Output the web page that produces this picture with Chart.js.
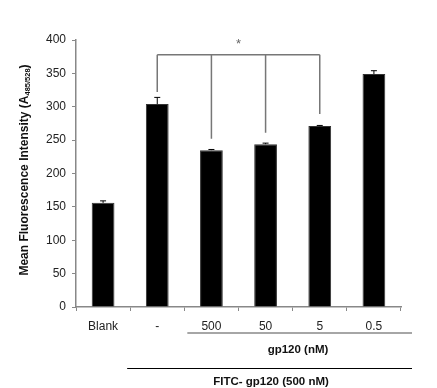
<!DOCTYPE html>
<html>
<head>
<meta charset="utf-8">
<script src="https://cdn.jsdelivr.net/npm/chart.js@4"></script>
<style>
  html, body { margin: 0; padding: 0; background: #fff; }
  #wrap { width: 437px; height: 388px; }
</style>
</head>
<body>
<div id="wrap"><canvas id="chart"></canvas></div>
<script>
const categories = ['Blank', '-', '500', '50', '5', '0.5'];
const means = [156, 304, 235, 244, 271, 349];
const errors = [3, 10, 1, 1.5, 1, 5];

// significance bracket: which bars, where each drop line ends, and the top of the bracket
const bracketBars = [1, 2, 3, 4];
const bracketEnds = [322, 252, 261, 289];
const bracketTop = 378;
const bracketMark = '*';

const yTitle = 'Mean Fluorescence Intensity (A';
const ySub = '485/528';
const groupInner = 'gp120 (nM)';
const groupOuter = 'FITC- gp120 (500 nM)';

const FONT = '"Liberation Sans", Arial, sans-serif';

const extras = {
    id: 'extras',
    afterDatasetsDraw(chart) {
        const ctx = chart.ctx;
        const x = chart.scales.x, y = chart.scales.y;
        const step = x.getPixelForValue(1) - x.getPixelForValue(0);
        ctx.save();

        // error bars (upper half)
        ctx.strokeStyle = '#000';
        ctx.lineWidth = 1;
        means.forEach((m, i) => {
            const cx = x.getPixelForValue(i);
            const top = y.getPixelForValue(m + errors[i]);
            ctx.beginPath();
            ctx.moveTo(cx, y.getPixelForValue(m));
            ctx.lineTo(cx, top);
            ctx.moveTo(cx - 3, top);
            ctx.lineTo(cx + 3, top);
            ctx.stroke();
        });

        // bracket
        ctx.strokeStyle = '#777';
        ctx.lineWidth = 1.5;
        const by = y.getPixelForValue(bracketTop);
        ctx.beginPath();
        ctx.moveTo(x.getPixelForValue(bracketBars[0]), by);
        ctx.lineTo(x.getPixelForValue(bracketBars[bracketBars.length - 1]), by);
        bracketBars.forEach((b, k) => {
            const bx = x.getPixelForValue(b);
            ctx.moveTo(bx, by);
            ctx.lineTo(bx, y.getPixelForValue(bracketEnds[k]));
        });
        ctx.stroke();
        ctx.fillStyle = '#666';
        ctx.font = '13px ' + FONT;
        ctx.textAlign = 'center';
        ctx.textBaseline = 'middle';
        const midX = (x.getPixelForValue(bracketBars[1]) + x.getPixelForValue(bracketBars[2])) / 2;
        ctx.fillText(bracketMark, midX, by - 10);

        // group lines and labels under the axis
        const xBottom = chart.chartArea.bottom;
        const rightEnd = chart.chartArea.right + 11;
        ctx.strokeStyle = '#888';
        ctx.lineWidth = 1.5;
        ctx.beginPath();
        const innerStart = x.getPixelForValue(2) - step / 2 + 3;
        ctx.moveTo(innerStart, xBottom + 26);
        ctx.lineTo(rightEnd, xBottom + 26);
        ctx.stroke();
        ctx.strokeStyle = '#000';
        ctx.lineWidth = 1;
        ctx.beginPath();
        const outerStart = x.getPixelForValue(1) - step / 2 - 3;
        ctx.moveTo(outerStart, xBottom + 61.5);
        ctx.lineTo(rightEnd, xBottom + 61.5);
        ctx.stroke();

        ctx.fillStyle = '#111';
        ctx.font = 'bold 11.5px ' + FONT;
        ctx.fillText(groupInner, 298, xBottom + 43);
        ctx.fillText(groupOuter, 271, xBottom + 75);

        // y-axis title with subscript
        ctx.translate(25, 170);
        ctx.rotate(-Math.PI / 2);
        ctx.textAlign = 'left';
        ctx.fillStyle = '#111';
        const mainFont = 'bold 12px ' + FONT;
        const subFont = 'bold 7.5px ' + FONT;
        ctx.font = mainFont;
        const w1 = ctx.measureText(yTitle).width;
        const w3 = ctx.measureText(')').width;
        ctx.font = subFont;
        const w2 = ctx.measureText(ySub).width;
        let sx = -(w1 + w2 + w3) / 2;
        ctx.font = mainFont;
        ctx.fillText(yTitle, sx, 0);
        sx += w1;
        ctx.font = subFont;
        ctx.fillText(ySub, sx, 3);
        sx += w2;
        ctx.font = mainFont;
        ctx.fillText(')', sx, 0);

        ctx.restore();
    }
};

new Chart(document.getElementById('chart'), {
    type: 'bar',
    data: {
        labels: categories,
        datasets: [{
            data: means,
            backgroundColor: '#000',
            borderColor: '#333',
            borderWidth: 1,
            barPercentage: 0.42,
            categoryPercentage: 1
        }]
    },
    options: {
        responsive: true,
        maintainAspectRatio: false,
        animation: false,
        layout: { padding: { left: 0, right: 36, top: 40, bottom: 0 } },
        plugins: {
            legend: { display: false },
            tooltip: { enabled: false }
        },
        scales: {
            x: {
                afterFit(scale) { scale.height = 81; },
                grid: { offset: true, drawOnChartArea: false, tickLength: 4, color: '#888' },
                border: { color: '#888', width: 1.5 },
                ticks: { padding: 8, color: '#222', font: { family: FONT, size: 12 }, maxRotation: 0 }
            },
            y: {
                min: 0,
                max: 400,
                afterFit(scale) { scale.width = 76; },
                grid: { drawOnChartArea: false, tickLength: 4, color: '#888' },
                border: { color: '#888', width: 1.5 },
                ticks: { stepSize: 50, padding: 6, color: '#222', font: { family: FONT, size: 12 } }
            }
        }
    },
    plugins: [extras]
});
</script>
</body>
</html>
